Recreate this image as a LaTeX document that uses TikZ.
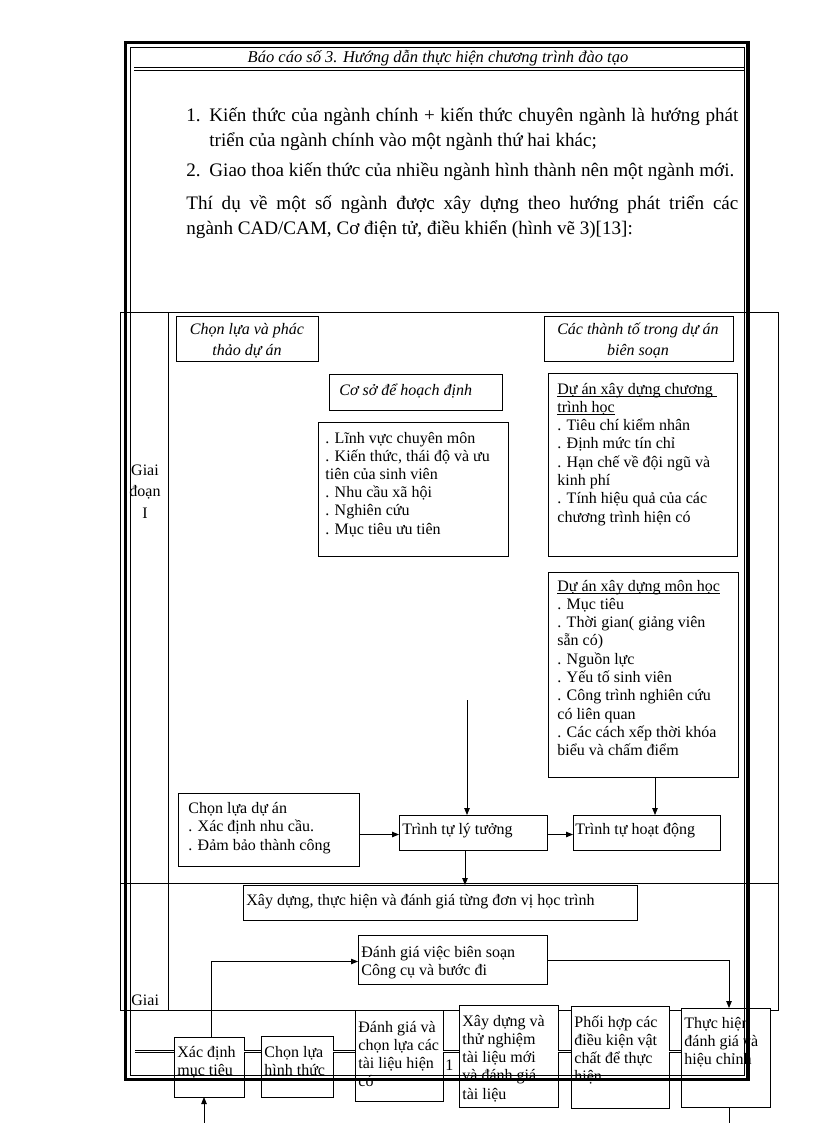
\documentclass[tikz,border=0pt]{standalone}
\usepackage{fontspec}
\setmainfont{Liberation Serif}
\usetikzlibrary{arrows.meta}
\newcommand\txtlines[6]{%
  \foreach \t [count=\i] in {#6} {\node[#2] (#1-\i) at ({#3},{#4+(\i-1)*#5}) {\t};}}
\newcommand\myul[1]{\leavevmode\setbox0\hbox{#1}\rlap{\rule[-2.6pt]{\wd0}{0.7pt}}\box0}
\begin{document}
\begin{tikzpicture}[x=1pt,y=-1pt,line width=0.8pt,
  bx/.style={draw,fill=white,line width=0.8pt,inner sep=0pt,outer sep=0pt,anchor=north west},
  tx/.style={anchor=base west,inner sep=0pt,font=\fontsize{16}{18}\selectfont},
  itx/.style={anchor=base,inner sep=0pt,font=\itshape\fontsize{16}{18}\selectfont},
  itl/.style={anchor=base west,inner sep=0pt,font=\itshape\fontsize{16}{18}\selectfont},
  body/.style={anchor=base west,inner sep=0pt,font=\fontsize{19.1}{22}\selectfont},
  arr/.style={-{Triangle[length=7pt,width=5.5pt]},line width=0.8pt},
  dbl/.style={draw,double=white,double distance=1.8pt,line width=0.7pt}]
\useasboundingbox (0,0) rectangle (816,1123);
\fill[white] (0,0) rectangle (816,1123);
% header
\node[anchor=base,inner sep=0pt,font=\itshape\fontsize{16.5}{18}\selectfont] (hdr) at (438,63) {Báo cáo số 3. Hướng dẫn thực hiện chương trình đào tạo};
\draw[line width=1.6pt] (134,67.5) -- (744,67.5);
\draw[line width=0.7pt] (134,70.5) -- (744,70.5);
% body text
\node[body] (n1) at (186,122) {1.};
\node[body] (l1) at (209,122) {\makebox[529pt][s]{Kiến thức của ngành chính + kiến thức chuyên ngành là hướng phát}};
\node[body] (l2) at (209,147) {triển của ngành chính vào một ngành thứ hai khác;};
\node[body] (n2) at (186,177) {2.};
\node[body] (l3) at (209,177) {Giao thoa kiến thức của nhiều ngành hình thành nên một ngành mới.};
\node[body] (l4) at (186,210) {\makebox[552pt][s]{Thí dụ về một số ngành được xây dựng theo hướng phát triển các}};
\node[body] (l5) at (186,235) {ngành CAD/CAM, Cơ điện tử, điều khiển (hình vẽ 3)[13]:};
% diagram grid
\draw (120,312) rectangle (778,1010);
\draw (168,312) -- (168,1010);
\draw (120,883) -- (778,883);
\txtlines{gd}{anchor=base,inner sep=0pt,font=\fontsize{16}{18}\selectfont}{145}{475}{21.5}{Giai,đoạn,I}
\node[tx] (gd2) at (131,1005) {Giai};
% phase I boxes
\node[bx,minimum width=142pt,minimum height=45pt] (b1) at (176,316) {};
\txtlines{b1t}{itx}{247}{334}{21}{Chọn lựa và phác,thảo dự án}
\node[bx,minimum width=189pt,minimum height=45pt] (b2) at (544,316) {};
\txtlines{b2t}{itx}{638}{334}{21}{Các thành tố trong dự án,biên soạn}
\node[bx,minimum width=173pt,minimum height=36pt] (b3) at (329,374) {};
\node[itl] (b3t) at (339,395) {Cơ sở để hoạch định};
\node[bx,minimum width=190pt,minimum height=134pt] (b4) at (318,422) {};
\txtlines{b4t}{tx}{325}{443}{18.2}{{. Lĩnh vực chuyên môn},{. Kiến thức, thái độ và ưu},{tiên của sinh viên},{. Nhu cầu xã hội},{. Nghiên cứu},{. Mục tiêu ưu tiên}}
\node[bx,minimum width=189pt,minimum height=183pt] (b5) at (548,373) {};
\txtlines{b5t}{tx}{557}{394}{18.3}{{\myul{Dự án xây dựng chương\ }},{\myul{trình học}},{. Tiêu chí kiểm nhân},{. Định mức tín chỉ},{. Hạn chế về đội ngũ và},{kinh phí},{. Tính hiệu quả của các},{chương trình hiện có}}
\node[bx,minimum width=190pt,minimum height=205pt] (b6) at (548,572) {};
\txtlines{b6t}{tx}{557}{591}{18.3}{{\myul{Dự án xây dựng môn học}},{. Mục tiêu},{. Thời gian( giảng viên},{sẵn có)},{. Nguồn lực},{. Yếu tố sinh viên},{. Công trình nghiên cứu},{có liên quan},{. Các cách xếp thời khóa},{biểu và chấm điểm}}
\node[bx,minimum width=181pt,minimum height=73pt] (b7) at (178,793) {};
\txtlines{b7t}{tx}{188}{813}{18.5}{{Chọn lựa dự án},{. Xác định nhu cầu.},{. Đảm bảo thành công}}
\node[bx,minimum width=148pt,minimum height=35pt] (b8) at (399,815) {};
\node[tx] (b8t) at (402,834) {Trình tự lý tưởng};
\node[bx,minimum width=147pt,minimum height=35pt] (b9) at (573,815) {};
\node[tx] (b9t) at (575,834) {Trình tự hoạt động};
% phase I arrows
\draw[arr] ([yshift=-2pt]b8.west -| b7.east) -- ([yshift=-2pt]b8.west);
\draw[arr] ([yshift=-2pt]b8.east) -- ([yshift=-2pt]b9.west);
\coordinate (vin) at (467,700);
\draw[arr] (vin) -- (vin |- b8.north);
\draw[arr] ([xshift=12pt]b6.south) -- ([xshift=12pt]b6.south |- b9.north);
% phase II
\node[bx,minimum width=394pt,minimum height=35pt] (b10) at (243,885) {};
\node[tx] (b10t) at (246,905) {Xây dựng, thực hiện và đánh giá từng đơn vị học trình};
\draw[arr] ([xshift=-8pt]b8.south) -- ([xshift=-8pt]b8.south |- b10.north);
\node[bx,minimum width=189pt,minimum height=49pt] (b11) at (358,935) {};
\txtlines{b11t}{tx}{361}{957}{18.3}{{Đánh giá việc biên soạn},{Công cụ và bước đi}}
% bottom row
\coordinate (dl0) at (135,1051.5);
\node[bx,minimum width=70pt,minimum height=60pt] (c1) at (174,1037) {};
\node[bx,minimum width=72pt,minimum height=61pt] (c2) at (261,1036) {};
\node[bx,minimum width=88pt,minimum height=91pt] (c3) at (355,1010) {};
\node[bx,minimum width=99pt,minimum height=102pt] (c4) at (459,1005) {};
\node[bx,minimum width=98pt,minimum height=102pt] (c5) at (571,1006) {};
\node[bx,minimum width=89pt,minimum height=99pt] (c6) at (681,1008) {};
\draw[dbl] (dl0) -- (c1.west |- dl0);
\draw[dbl] (c1.east |- dl0) -- (c2.west |- dl0);
\draw[dbl] (c2.east |- dl0) -- (c3.west |- dl0);
\draw[dbl] (c3.east |- dl0) -- (c4.west |- dl0);
\draw[dbl] (c4.east |- dl0) -- (c5.west |- dl0);
\draw[dbl] (c5.east |- dl0) -- (c6.west |- dl0);
\txtlines{c1t}{tx}{177}{1057}{18.3}{{Xác định},{mục tiêu}}
\txtlines{c2t}{tx}{264}{1057}{18.3}{{Chọn lựa},{hình thức}}
\txtlines{c3t}{tx}{358}{1032}{18.3}{{Đánh giá và},{chọn lựa các},{tài liệu hiện},{có}}
\node[tx] (one) at (445,1070) {1};
\txtlines{c4t}{tx}{462}{1026}{18.3}{{Xây dựng và},{thử nghiệm},{tài liệu mới},{và đánh giá},{tài liệu}}
\txtlines{c5t}{tx}{574}{1027}{18.3}{{Phối hợp các},{điều kiện vật},{chất để thực},{hiện}}
\txtlines{c6t}{tx}{684}{1028}{18.3}{{Thực hiện},{đánh giá và},{hiệu chỉnh}}
% phase II arrows
\draw[arr] ([xshift=2pt]c1.north) |- ([yshift=-2pt]b11.west);
\draw[arr] ([yshift=-1pt]b11.east) -| ([xshift=3.5pt]c6.north);
\coordinate (cin) at (204,1123);
\draw[arr] (cin) -- (cin |- c1.south);
\coordinate (cout) at (729,1123);
\draw (cout |- c6.south) -- (cout);
% page frame on top
\draw[line width=3.5pt] (125.5,42.5) rectangle (748,1079.5);
\draw[line width=0.8pt] (130,47) rectangle (744,1075.5);
\end{tikzpicture}
\end{document}
